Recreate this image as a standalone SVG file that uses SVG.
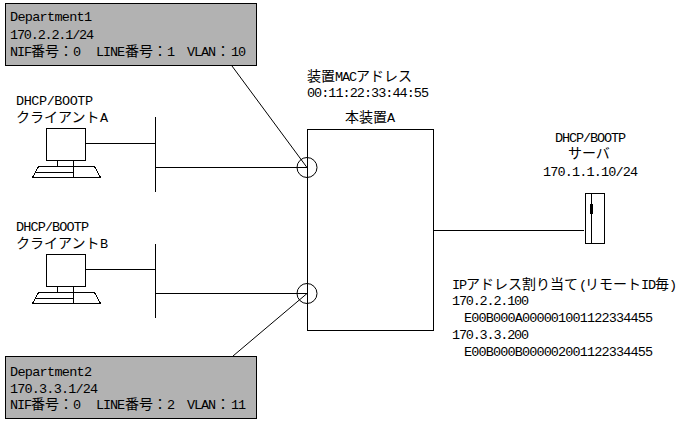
<svg xmlns="http://www.w3.org/2000/svg" width="688" height="423" viewBox="0 0 688 423">
<style>
.s{fill:none;stroke:#000;stroke-width:1;shape-rendering:crispEdges}
.d{fill:none;stroke:#000;stroke-width:1}
.w{fill:#fff;stroke:#000;stroke-width:1;shape-rendering:crispEdges}
.g{fill:#b2b2b2;stroke:#000;stroke-width:1;shape-rendering:crispEdges}
text{font-family:"Liberation Mono",monospace;font-size:13.5px;letter-spacing:-1.1px;fill:#000;white-space:pre}
.j{font-family:"Noto Sans CJK JP","Liberation Sans",sans-serif;font-size:14px;letter-spacing:0}
</style>
<defs>
<g id="pc">
<rect class="s" x="46.5" y="128.5" width="39" height="32"/>
<path class="s" d="M57.5 160.5V166.5M73.5 160.5V177.5M38.5 166.5H94.5L100.5 177.5H32.5ZM35.5 172.5H73.5"/>
</g>
</defs>
<rect width="688" height="423" fill="#fff"/>
<g id="connectors">
<path class="s" d="M85.5 143.5H155.5M155.5 117V192M156 167.5H307M85.5 269.5H155.5M155.5 244V318M156 293.5H307M434 230.5H584"/>
<path class="d" d="M232 66L307 167.5M233 356L307 293.5"/>
</g>
<g id="department1">
<rect class="g" x="5.5" y="3.5" width="251" height="62"/>
<text x="10" y="21" textLength="81">Department1</text>
<text x="10" y="39" textLength="83">170.2.2.1/24</text>
<text y="56"><tspan x="10">NIF</tspan><tspan x="31" class="j">番号：</tspan><tspan x="73">0</tspan><tspan x="96">LINE</tspan><tspan x="125" class="j">番号：</tspan><tspan x="167">1</tspan><tspan x="187">VLAN</tspan><tspan x="216" class="j">：</tspan><tspan x="231">10</tspan></text>
</g>
<g id="department2">
<rect class="g" x="5.5" y="356.5" width="251" height="62"/>
<text x="10" y="375.5" textLength="81">Department2</text>
<text x="10" y="392.5" textLength="87">170.3.3.1/24</text>
<text y="409"><tspan x="10">NIF</tspan><tspan x="31" class="j">番号：</tspan><tspan x="73">0</tspan><tspan x="96">LINE</tspan><tspan x="125" class="j">番号：</tspan><tspan x="167">2</tspan><tspan x="187">VLAN</tspan><tspan x="216" class="j">：</tspan><tspan x="231">11</tspan></text>
</g>
<g id="clientA">
<use href="#pc"/>
<text x="16" y="105" textLength="76">DHCP/BOOTP</text>
<text y="122"><tspan x="16" class="j">クライアント</tspan><tspan x="100">A</tspan></text>
</g>
<g id="clientB">
<use href="#pc" y="126"/>
<text x="16" y="231" textLength="72">DHCP/BOOTP</text>
<text y="248"><tspan x="16" class="j">クライアント</tspan><tspan x="100">B</tspan></text>
</g>
<g id="deviceA">
<rect class="s" x="307.5" y="129.5" width="126" height="201"/>
<circle class="d" cx="307" cy="167.5" r="10"/>
<circle class="d" cx="307" cy="293.5" r="10"/>
<text y="81"><tspan x="307" class="j">装置</tspan><tspan x="335">MAC</tspan><tspan x="356" class="j">アドレス</tspan></text>
<text x="307" y="97" textLength="121">00:11:22:33:44:55</text>
<text y="122"><tspan x="345" class="j">本装置</tspan><tspan x="387">A</tspan></text>
</g>
<g id="server">
<rect class="w" x="585.5" y="193.5" width="19" height="50"/>
<path class="s" d="M591.5 193.500V243.500"/>
<rect x="590" y="204" width="3" height="10" fill="#000"/>
<text x="555" y="141.500" textLength="70">DHCP/BOOTP</text>
<text y="158"><tspan x="568" class="j">サーバ</tspan></text>
<text x="543" y="175.500" textLength="94">170.1.1.10/24</text>
</g>
<g id="assignment">
<text y="288.500"><tspan x="452">IP</tspan><tspan x="466" class="j">アドレス割り当て</tspan><tspan x="579">(</tspan><tspan x="585" class="j">リモート</tspan><tspan x="641">ID</tspan><tspan x="655" class="j">毎</tspan><tspan x="669">)</tspan></text>
<text x="452" y="305" textLength="76">170.2.2.100</text>
<text x="464" y="322" textLength="188">E00B000A000001001122334455</text>
<text x="452" y="339" textLength="76">170.3.3.200</text>
<text x="464" y="356" textLength="188">E00B000B000002001122334455</text>
</g>
</svg>
